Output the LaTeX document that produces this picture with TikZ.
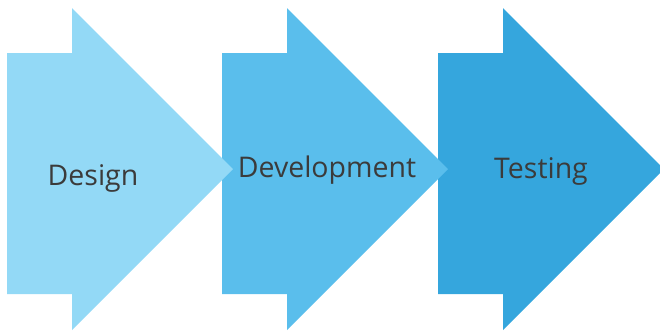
\documentclass[tikz,border=0pt]{standalone}
\usepackage{fontspec}
\setmainfont{Open Sans}
\definecolor{stepone}{HTML}{93D9F6}
\definecolor{steptwo}{HTML}{5ABEEC}
\definecolor{stepthree}{HTML}{35A6DD}
\definecolor{labelgray}{HTML}{3B3B3B}
\begin{document}
\begin{tikzpicture}[x = 0.02cm, y = -0.02cm, phase/.style = {text=labelgray,anchor=base,inner sep=0pt,font=\fontsize{16.2}{19}\selectfont},]
		\useasboundingbox (0,0) rectangle (660,332);
		
		\foreach \dx/\col in {431/stepthree, 215/steptwo, 0/stepone}
			\fill[\col] (7+\dx,53) -- (72+\dx,53) -- (72+\dx,8) -- (233+\dx,169) -- (72+\dx,330) -- (72+\dx,294) -- (7+\dx,294) -- cycle;
		
		\node[phase] (D) at (93,185) {Design};
		\node[phase] (V) at (327,177) {Development};
		\node[phase] (T) at (541,178) {Testing};
	\end{tikzpicture}
\end{document}
